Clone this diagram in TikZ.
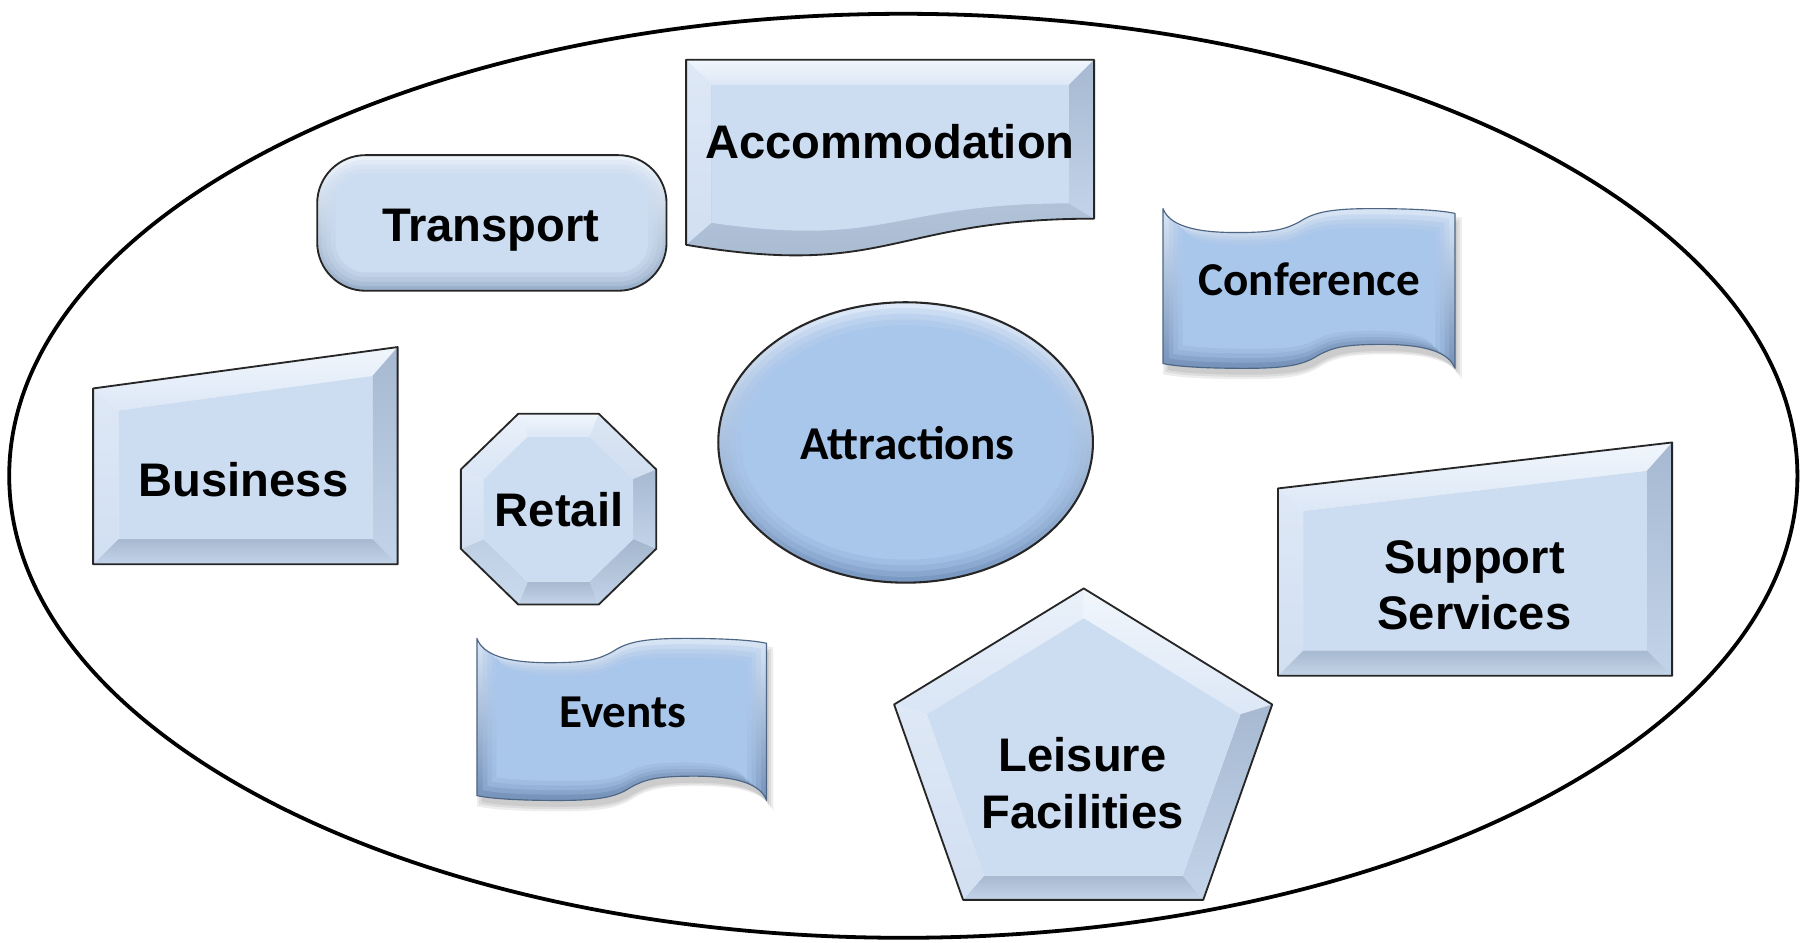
\documentclass[tikz,border=0pt]{standalone}
\usepackage{fontspec}
\newfontfamily\lsans{Liberation Sans}
\newfontfamily\calib{Carlito}

\definecolor{LightBase}{HTML}{CCDCF1}
\definecolor{DarkBase}{HTML}{A9C6EB}
\definecolor{Ftop1}{HTML}{F1F6FC}\definecolor{Ftop2}{HTML}{DCE7F6}
\definecolor{Ftl1}{HTML}{EAF1FA}\definecolor{Ftl2}{HTML}{D9E5F5}
\definecolor{Ftr1}{HTML}{DCE6F3}\definecolor{Ftr2}{HTML}{D0DEF1}
\definecolor{Fleft1}{HTML}{DEE8F6}\definecolor{Fleft2}{HTML}{D1DFF2}
\definecolor{Fright1}{HTML}{A6B9D0}\definecolor{Fright2}{HTML}{C3D4EA}
\definecolor{Fbr1}{HTML}{A3B6CD}\definecolor{Fbr2}{HTML}{C3D4E9}
\definecolor{Fbot1}{HTML}{A7B9D0}\definecolor{Fbot2}{HTML}{C4D4E9}
\definecolor{Fbl1}{HTML}{BFCFE3}\definecolor{Fbl2}{HTML}{C9D9EE}
\definecolor{TrTop}{HTML}{EEF4FB}\definecolor{TrBot}{HTML}{98AEC9}
\definecolor{AtTop}{HTML}{DDE9F8}\definecolor{AtBot}{HTML}{7898C2}
\definecolor{WvTop}{HTML}{D8E5F5}\definecolor{WvBot}{HTML}{7592BA}
\definecolor{WaveEdge}{HTML}{4E6683}

% one bevel facet: shading angle, outer colour, inner colour, path
\newcommand\facet[4]{\shade[shading angle=#1, top color=#2, bottom color=#3] #4;}

% banner outline in a unit box (curl at top left and bottom right)
\def\wavepath{(0,0) .. controls (0.02,0.10) and (0.10,0.15) .. (0.25,0.15)
  .. controls (0.38,0.15) and (0.42,0.13) .. (0.47,0.08)
  .. controls (0.52,0.02) and (0.58,0.0) .. (0.72,0.0)
  .. controls (0.85,0.0) and (0.95,0.01) .. (1,0.03) -- (1,1)
  .. controls (0.98,0.90) and (0.90,0.85) .. (0.75,0.85)
  .. controls (0.62,0.85) and (0.58,0.87) .. (0.53,0.92)
  .. controls (0.48,0.98) and (0.42,1.0) .. (0.28,1.0)
  .. controls (0.15,1.0) and (0.05,0.99) .. (0,0.97) -- cycle}
% banner placed at x0,y0 with size w,h, shrunk by an inset, drawn with a style
\newcommand\wavepart[6]{%
  \pgfmathsetmacro\wx{#1+(#5)}\pgfmathsetmacro\wy{#2+(#5)}%
  \pgfmathsetmacro\ww{#3-2*(#5)}\pgfmathsetmacro\wh{#4-2*(#5)}%
  \begin{scope}[shift={(\wx,\wy)}, xscale=\ww, yscale=\wh]
  \path[#6] \wavepath;\end{scope}}

% document outline in a unit box
\def\docpath{(0,0) -- (1,0) -- (1,0.802) .. controls (0.5,0.802) and (0.5,1.1075) .. (0,0.934) -- cycle}

\begin{document}
\begin{tikzpicture}[x=1pt, y=-1pt,
  lbl/.style={font=\lsans\bfseries\fontsize{41}{49}\selectfont, align=center, inner sep=0pt, text=black},
  clbl/.style={font=\calib\bfseries\fontsize{41}{49}\selectfont, inner sep=0pt, text=black},
  outline/.style={draw=black!85, line width=1.6pt, line join=round},
  waveline/.style={draw=WaveEdge, line width=1pt, line join=round},
]
\useasboundingbox (0,0) rectangle (1568,820);
\fill[white] (0,0) rectangle (1568,820);

% surrounding frame
\draw[line width=3.3pt] (786,414) ellipse [x radius=778, y radius=402];

% ---------- Transport (rounded box)
\shade[rounded corners=42pt, top color=TrTop, bottom color=TrBot] (276,135) rectangle (580,253);
\foreach \d/\o in {4/0.3,8/0.35,12/0.45,16/1}{
  \pgfmathsetmacro\rr{42-\d}
  \fill[LightBase, opacity=\o, rounded corners=\rr pt] (276+\d,135+\d) rectangle (580-\d,253-\d);
}
\draw[outline, rounded corners=42pt] (276,135) rectangle (580,253);
\node[lbl, anchor=base] (transport) at (427,210) {Transport};

% ---------- Accommodation (document)
\begin{scope}[shift={(597,52)}, xscale=355, yscale=172.4]
  \shade[top color=Fbot2, bottom color=Fbot1] \docpath;
\end{scope}
\facet{0}{Ftop1}{Ftop2}{(597,52)--(952,52)--(930,74)--(619,74)--cycle}
\facet{90}{Fleft1}{Fleft2}{(597,52)--(619,74)--(619,193.9)--(597,213)--cycle}
\facet{-90}{Fright1}{Fright2}{(952,52)--(952,190.3)--(930,177)--(930,74)--cycle}
\begin{scope}[shift={(619,74)}, xscale=311, yscale=128.4]
  \fill[LightBase] \docpath;
\end{scope}
\begin{scope}[shift={(597,52)}, xscale=355, yscale=172.4]
  \draw[outline] \docpath;
\end{scope}
\node[lbl, anchor=base] (accommodation) at (774.5,138) {Accommodation};

% ---------- Conference (banner)
\foreach \d in {-3,-1,1}{\wavepart{1015}{188}{254}{139}{\d}{fill=black, opacity=0.07}}
\wavepart{1012}{181.5}{254}{139}{0}{top color=WvTop, bottom color=WvBot}
\foreach \d/\o in {5/0.3,9/0.4,13/0.5,17/1}{\wavepart{1012}{181.5}{254}{139}{\d}{fill=DarkBase, opacity=\o}}
\wavepart{1012}{181.5}{254}{139}{0}{waveline}
\node[clbl, anchor=base] (conference) at (1139.5,257) {Conference};

% ---------- Attractions (ellipse)
\shade[top color=AtTop, bottom color=AtBot] (788,385) ellipse [x radius=163, y radius=122];
\foreach \d/\o in {5/0.3,10/0.4,15/0.5,20/1}{
  \fill[DarkBase, opacity=\o] (788,385) ellipse [x radius=163-\d, y radius=122-\d];
}
\draw[outline, line width=1.8pt] (788,385) ellipse [x radius=163, y radius=122];
\node[clbl, anchor=base] (attractions) at (789.5,400) {Attractions};

% ---------- Business (slanted box)
\facet{7.7}{Ftop1}{Ftop2}{(81,338)--(346,302)--(324,327.2)--(103,357.2)--cycle}
\facet{-90}{Fright1}{Fright2}{(346,302)--(346,491)--(324,469)--(324,327.2)--cycle}
\facet{-180}{Fbot1}{Fbot2}{(346,491)--(81,491)--(103,469)--(324,469)--cycle}
\facet{90}{Fleft1}{Fleft2}{(81,491)--(81,338)--(103,357.2)--(103,469)--cycle}
\fill[LightBase] (103,357.2)--(324,327.2)--(324,469)--(103,469)--cycle;
\draw[outline] (81,338)--(346,302)--(346,491)--(81,491)--cycle;
\node[lbl, anchor=base] (business) at (212,432) {Business};

% ---------- Retail (octagon)
\facet{0}{Ftop1}{Ftop2}{(451,360)--(521,360)--(512.9,380)--(459.1,380)--cycle}
\facet{-45}{Ftr1}{Ftr2}{(521,360)--(571,408.5)--(551,416.9)--(512.9,380)--cycle}
\facet{-90}{Fright1}{Fright2}{(571,408.5)--(571,477.5)--(551,469.1)--(551,416.9)--cycle}
\facet{-135}{Fbr1}{Fbr2}{(571,477.5)--(521,526)--(512.9,506)--(551,469.1)--cycle}
\facet{-180}{Fbot1}{Fbot2}{(521,526)--(451,526)--(459.1,506)--(512.9,506)--cycle}
\facet{135}{Fbl1}{Fbl2}{(451,526)--(401,477.5)--(421,469.1)--(459.1,506)--cycle}
\facet{90}{Fleft1}{Fleft2}{(401,477.5)--(401,408.5)--(421,416.9)--(421,469.1)--cycle}
\facet{45}{Ftl1}{Ftl2}{(401,408.5)--(451,360)--(459.1,380)--(421,416.9)--cycle}
\fill[LightBase] (459.1,380)--(512.9,380)--(551,416.9)--(551,469.1)--(512.9,506)--(459.1,506)--(421,469.1)--(421,416.9)--cycle;
\draw[outline] (451,360)--(521,360)--(571,408.5)--(571,477.5)--(521,526)--(451,526)--(401,477.5)--(401,408.5)--cycle;
\node[lbl, anchor=base] (retail) at (486.5,458) {Retail};

% ---------- Events (banner)
\foreach \d in {-3,-1,1}{\wavepart{418}{562}{252}{141}{\d}{fill=black, opacity=0.07}}
\wavepart{415}{555.5}{252}{141}{0}{top color=WvTop, bottom color=WvBot}
\foreach \d/\o in {5/0.3,9/0.4,13/0.5,17/1}{\wavepart{415}{555.5}{252}{141}{\d}{fill=DarkBase, opacity=\o}}
\wavepart{415}{555.5}{252}{141}{0}{waveline}
\node[clbl, anchor=base] (events) at (542,633) {Events};

% ---------- Leisure Facilities (pentagon)
\facet{-31.5}{Ftop1}{Ftop2}{(943,512)--(1107,613)--(1079.4,621.5)--(943,538)--cycle}
\facet{-109.4}{Fright1}{Fright2}{(1107,613)--(1047,783)--(1029,762)--(1079.4,621.5)--cycle}
\facet{-180}{Fbot1}{Fbot2}{(1047,783)--(838,783)--(856.2,762)--(1029,762)--cycle}
\facet{109.4}{Fleft1}{Fleft2}{(838,783)--(778,613)--(806.6,621.5)--(856.2,762)--cycle}
\facet{31.5}{Ftl1}{Ftl2}{(778,613)--(943,512)--(943,538)--(806.6,621.5)--cycle}
\fill[LightBase] (943,538)--(1079.4,621.5)--(1029,762)--(856.2,762)--(806.6,621.5)--cycle;
\draw[outline] (943,512)--(1107,613)--(1047,783)--(838,783)--(778,613)--cycle;
\node[lbl] (leisure) at (942,681.5) {Leisure\\Facilities};

% ---------- Support Services (slanted box)
\facet{6.65}{Ftop1}{Ftop2}{(1112,425)--(1455,385)--(1433,409.7)--(1134,444.6)--cycle}
\facet{-90}{Fright1}{Fright2}{(1455,385)--(1455,588)--(1433,566)--(1433,409.7)--cycle}
\facet{-180}{Fbot1}{Fbot2}{(1455,588)--(1112,588)--(1134,566)--(1433,566)--cycle}
\facet{90}{Fleft1}{Fleft2}{(1112,588)--(1112,425)--(1134,444.6)--(1134,566)--cycle}
\fill[LightBase] (1134,444.6)--(1433,409.7)--(1433,566)--(1134,566)--cycle;
\draw[outline] (1112,425)--(1455,385)--(1455,588)--(1112,588)--cycle;
\node[lbl] (support) at (1283,509.5) {Support\\Services};
\end{tikzpicture}
\end{document}
